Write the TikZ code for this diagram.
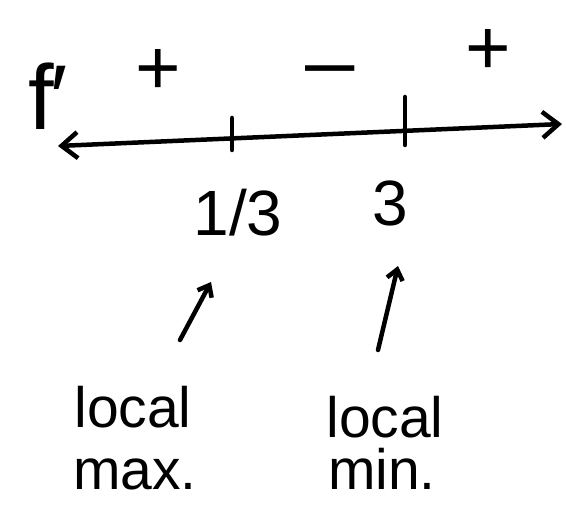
\documentclass[tikz,border=0pt]{standalone}
\usepackage{fontspec}
\setmainfont{Liberation Sans}
\usetikzlibrary{arrows.meta,calc}
\begin{document}
\begin{tikzpicture}[x=1pt,y=-1pt,
  ink/.style={line width=4.5pt,line cap=round,line join=round,black},
  hand/.style={font=\fontsize{57}{57}\selectfont,inner sep=0pt,anchor=base},
  sign/.style={font=\fontsize{78}{78}\selectfont,inner sep=0pt},
  mid/.style={font=\fontsize{64}{64}\selectfont,inner sep=0pt,anchor=base}]
\useasboundingbox[fill=white] (0,0) rectangle (566,505);
% number line
\coordinate (L) at (58,146);
\coordinate (R) at (562,124);
\draw[ink,{Straight Barb[length=16pt,width=26pt]}-{Straight Barb[length=16pt,width=26pt]}] (L) -- (R);
% ticks
\coordinate (t1) at (232,138);
\coordinate (t2) at (405,131);
\draw[ink] ($(t1)+(0,-20)$) -- ($(t1)+(0,12)$);
\draw[ink] ($(t2)+(0,-34)$) -- ($(t2)+(0,14)$);
% labels
\node[font=\fontsize{92}{92}\selectfont,inner sep=0pt,anchor=base] (f) at (48,130) {f\kern-4pt′};
\node[sign] (p1) at (158,72) {+};
\node[sign,xscale=1.3] (m) at (330,80) {−};
\node[sign] (p2) at (488,52) {+};
\node[mid] (a) at (238,236) {1/3};
\node[mid] (b) at (390,226) {3};
% arrows
\coordinate (a1s) at (180,340);
\coordinate (a1e) at (211,282);
\coordinate (a2s) at (378,350);
\coordinate (a2e) at (398,266);
\draw[ink,-{Straight Barb[length=10pt,width=16pt]}] (a1s) -- (a1e);
\draw[ink,-{Straight Barb[length=10pt,width=16pt]}] (a2s) -- (a2e);
% words
\node[hand] (lmax) at (133,428) {local};
\node[hand] (max) at (135,490) {max.};
\node[hand] (lmin) at (385,438) {local};
\node[hand] (min) at (382,490) {min.};
\end{tikzpicture}
\end{document}
